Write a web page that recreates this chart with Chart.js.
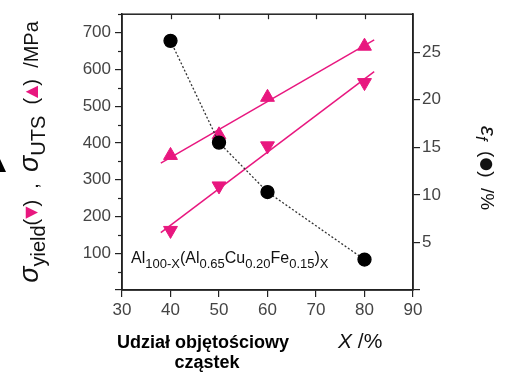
<!DOCTYPE html>
<html>
<head>
<meta charset="utf-8">
<script src="https://cdn.jsdelivr.net/npm/chart.js@4.4.1/dist/chart.umd.min.js"></script>
<style>
html, body { margin: 0; padding: 0; background: #fff; }
</style>
</head>
<body>
<canvas id="chart" width="509" height="372"></canvas>
<script>
// dane
const xVals = [40, 50, 60, 80];
const utsVals = [366, 422, 524, 663];      // sigma UTS /MPa (trojkaty w gore)
const yieldVals = [162, 283, 392, 564];    // sigma yield /MPa (trojkaty w dol)
const elongVals = [26.2, 15.5, 10.3, 3.2]; // epsilon f /%
// linie dopasowania (konce)
const fitX = [38, 82];
const utsFit = [345, 680];
const yieldFit = [156, 594];

const pink = '#e8177f';
const axisColor = '#222';
const tickFont = { family: 'Liberation Sans, Arial', size: 17 };
const tickColor = '#444';

function pts(xs, ys) {
    return xs.map(function (x, i) { return { x: x, y: ys[i] }; });
}

// rysowanie tekstu z kawalkami (indeksy dolne, kolory)
function drawPieces(ctx, pieces, x, y, angle, align) {
    ctx.save();
    ctx.translate(x, y);
    ctx.rotate(angle);
    var total = 0;
    pieces.forEach(function (p) { ctx.font = p.font; total += ctx.measureText(p.t).width; });
    var cx = align === 'center' ? -total / 2 : 0;
    ctx.textBaseline = 'alphabetic';
    ctx.textAlign = 'left';
    pieces.forEach(function (p) {
        ctx.font = p.font;
        ctx.fillStyle = p.c || '#111';
        ctx.fillText(p.t, cx, p.dy || 0);
        cx += ctx.measureText(p.t).width;
    });
    ctx.restore();
}

const F = 'Liberation Sans, Arial, sans-serif';

const extras = {
    id: 'extras',
    afterDraw: function (c) {
        var ctx = c.ctx;
        var a = c.chartArea;
        var x = c.scales.x, y = c.scales.y;
        ctx.save();
        // ramka
        ctx.strokeStyle = axisColor;
        ctx.lineWidth = 1.5;
        ctx.strokeRect(a.left, a.top, a.right - a.left, a.bottom - a.top);
        // male podzialki na lewej osi
        ctx.lineWidth = 1.2;
        for (var v = 50; v <= 750; v += 100) {
            var py = Math.round(y.getPixelForValue(v)) + 0.5;
            ctx.beginPath();
            ctx.moveTo(a.left - 4, py);
            ctx.lineTo(a.left, py);
            ctx.stroke();
        }
        // podzialki na gornej osi (do srodka)
        for (var t = 40; t <= 80; t += 10) {
            var px = Math.round(x.getPixelForValue(t)) + 0.5;
            ctx.beginPath();
            ctx.moveTo(px, a.top);
            ctx.lineTo(px, a.top + 5);
            ctx.stroke();
        }
        // znaczek po lewej
        ctx.fillStyle = '#000';
        ctx.beginPath();
        ctx.moveTo(0, 159);
        ctx.lineTo(6, 172);
        ctx.lineTo(0, 172);
        ctx.closePath();
        ctx.fill();
        ctx.restore();

        // opis lewej osi
        drawPieces(ctx, [
            { t: 'σ', font: 'italic 27px ' + F },
            { t: 'yield', font: '20px ' + F, dy: 7 },
            { t: '(', font: '20px ' + F },
            { t: '▼', font: '16px DejaVu Sans', c: pink, dy: -2 },
            { t: ')  ,  ', font: '20px ' + F },
            { t: 'σ', font: 'italic 27px ' + F },
            { t: 'UTS', font: '20px ' + F, dy: 7 },
            { t: '  (', font: '20px ' + F },
            { t: '▲', font: '16px DejaVu Sans', c: pink, dy: -2 },
            { t: ')  /MPa', font: '20px ' + F }
        ], 38, 152, -Math.PI / 2, 'center');

        // opis prawej osi
        drawPieces(ctx, [
            { t: 'ε', font: 'italic 23px ' + F },
            { t: 'f', font: 'italic 16px ' + F, dy: 5 },
            { t: '  (', font: '19px ' + F },
            { t: '●', font: '16px DejaVu Sans', dy: -1 },
            { t: ')  /%', font: '19px ' + F }
        ], 481, 168, Math.PI / 2, 'center');

        // sklad stopu
        drawPieces(ctx, [
            { t: 'Al', font: '16px ' + F },
            { t: '100-X', font: '13px ' + F, dy: 5 },
            { t: '(Al', font: '16px ' + F },
            { t: '0.65', font: '13px ' + F, dy: 5 },
            { t: 'Cu', font: '16px ' + F },
            { t: '0.20', font: '13px ' + F, dy: 5 },
            { t: 'Fe', font: '16px ' + F },
            { t: '0.15', font: '13px ' + F, dy: 5 },
            { t: ')', font: '16px ' + F },
            { t: 'X', font: '13px ' + F, dy: 5 }
        ], 131, 263, 0, 'left');

        // opisy pod osia X
        ctx.save();
        ctx.fillStyle = '#000';
        ctx.textAlign = 'center';
        ctx.font = 'bold 18px ' + F;
        ctx.fillText('Udział objętościowy', 203, 348);
        ctx.fillText('cząstek', 207, 368);
        ctx.restore();
        drawPieces(ctx, [
            { t: 'X', font: 'italic 21px ' + F },
            { t: ' /%', font: '21px ' + F }
        ], 338, 348, 0, 'left');
    }
};

new Chart(document.getElementById('chart'), {
    type: 'scatter',
    data: {
        datasets: [
            {
                data: pts(fitX, utsFit), showLine: true, pointRadius: 0,
                borderColor: pink, borderWidth: 1.5, yAxisID: 'y', order: 5
            },
            {
                data: pts(fitX, yieldFit), showLine: true, pointRadius: 0,
                borderColor: pink, borderWidth: 1.5, yAxisID: 'y', order: 5
            },
            {
                data: pts(xVals, utsVals), pointStyle: 'triangle', pointRadius: 8,
                backgroundColor: pink, borderColor: pink, borderWidth: 1, yAxisID: 'y', order: 3
            },
            {
                data: pts(xVals, yieldVals), pointStyle: 'triangle', rotation: 180, pointRadius: 8,
                backgroundColor: pink, borderColor: pink, borderWidth: 1, yAxisID: 'y', order: 3
            },
            {
                data: pts(xVals, elongVals), showLine: true, borderDash: [2, 2],
                borderColor: '#333', borderWidth: 1.3, pointRadius: 6.5,
                pointBackgroundColor: '#000', pointBorderColor: '#000', yAxisID: 'y2', order: 1
            }
        ]
    },
    options: {
        responsive: false,
        animation: false,
        layout: { padding: { top: 8 } },
        plugins: { legend: { display: false }, tooltip: { enabled: false } },
        scales: {
            x: {
                type: 'linear', position: 'bottom', min: 30, max: 90,
                ticks: { stepSize: 10, autoSkip: false, maxRotation: 0, font: tickFont, color: tickColor, padding: 3 },
                grid: { drawOnChartArea: false, tickLength: 7, color: axisColor, lineWidth: 1.2 },
                border: { color: axisColor, width: 1.5 },
                afterFit: function (s) { s.height = 82; }
            },
            y: {
                type: 'linear', position: 'left', min: 0, max: 750,
                ticks: {
                    stepSize: 100, autoSkip: false, includeBounds: false, font: tickFont, color: tickColor, padding: 4,
                    callback: function (v) { return v > 0 ? v : ''; }
                },
                grid: { drawOnChartArea: false, tickLength: 7, color: axisColor, lineWidth: 1.2 },
                border: { color: axisColor, width: 1.5 },
                afterFit: function (s) { s.width = 122; }
            },
            y2: {
                type: 'linear', position: 'right', min: 0, max: 29,
                ticks: {
                    stepSize: 5, autoSkip: false, includeBounds: false, font: tickFont, color: tickColor, padding: 2,
                    callback: function (v) { return v > 0 ? v : ''; }
                },
                grid: { drawOnChartArea: false, tickLength: 7, color: axisColor, lineWidth: 1.2 },
                border: { color: axisColor, width: 1.5 },
                afterFit: function (s) { s.width = 96; }
            }
        }
    },
    plugins: [extras]
});
</script>
</body>
</html>
